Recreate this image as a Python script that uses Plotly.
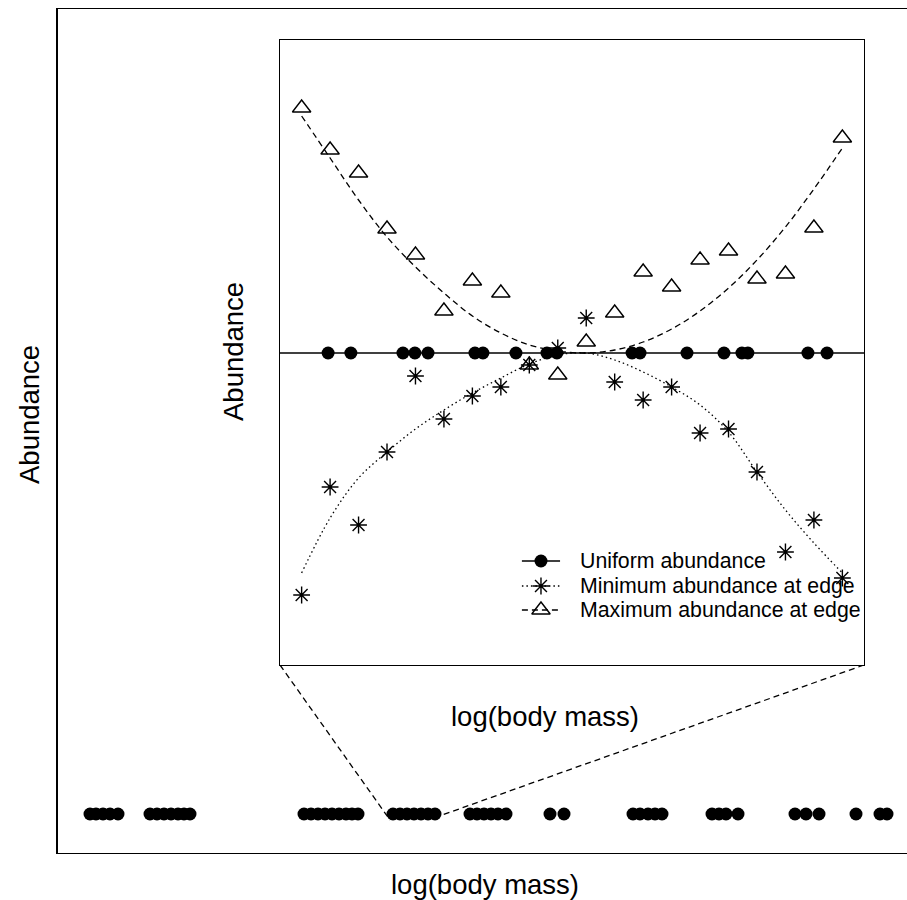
import plotly.graph_objects as go

# ---------------- data ----------------
# Outer panel: positions of species along log(body mass) (arbitrary units)
outer_mass = [3.25, 3.85, 4.55, 5.25, 6.05,
              9.25, 9.95, 10.65, 11.35, 12.05, 12.65, 13.25,
              24.65, 25.35, 26.05, 26.75, 27.45, 28.15, 28.85, 29.45, 30.05,
              33.55, 34.25, 34.95, 35.65, 36.35, 37.05, 37.75,
              41.25, 41.95, 42.65, 43.35, 44.05, 44.85,
              49.25, 50.65,
              57.55, 58.25, 59.05, 59.75, 60.45,
              65.45, 66.15, 66.85, 68.05,
              73.75, 74.85, 76.15,
              79.85,
              82.25, 82.95]
outer_level = 3.9
# zoomed window on the outer axis (left / right end of the connector lines)
zoom_window_x = [33.25, 38.45]
zoom_window_y = [3.3, 3.8]

# Inset panel
inset_x = list(range(1, 21))
max_edge = [74.5, 70.3, 68.0, 62.4, 59.8, 54.2, 57.2, 56.0, 48.8, 47.8,
            51.1, 54.0, 58.1, 56.6, 59.3, 60.2, 57.4, 57.9, 62.5, 71.5]
min_edge = [25.8, 36.6, 32.8, 40.1, 47.7, 43.4, 45.7, 46.6, 48.8, 50.5,
            53.5, 47.1, 45.3, 46.6, 42.0, 42.4, 38.1, 30.1, 33.3, 27.5]
max_curve = [73.7, 69.5, 65.3, 61.6, 58.6, 56.0, 53.7, 52.0, 50.8, 50.2,
             50.0, 50.3, 51.1, 52.4, 54.2, 56.5, 59.3, 62.6, 66.4, 70.5]
min_curve = [28.0, 33.5, 37.5, 40.1, 42.4, 44.3, 46.0, 47.5, 48.9, 49.8,
             50.0, 49.3, 48.1, 46.6, 44.8, 42.1, 38.1, 34.3, 31.0, 28.0]
uniform_x = [1.93, 2.73, 4.56, 4.98, 5.44, 7.09, 7.37, 8.53, 9.62, 9.97,
             12.61, 12.89, 14.54, 15.84, 16.47, 16.68, 18.79, 19.46]
uniform_level = 50.0

legend_labels = ["Uniform abundance", "Minimum abundance at edge", "Maximum abundance at edge"]

# ---------------- layout constants ----------------
W, H = 907, 900
FONT = "Liberation Sans, Arial, Helvetica, sans-serif"
INK = "#000000"
LW = 1.3

outer_xdom = [57.5 / W, 1.0]
outer_ydom = [47 / H, 891 / H]
outer_xrange = [0, 84.95]
outer_yrange = [0, 84.4]
inset_xdom = [280 / W, 864 / W]
inset_ydom = [235 / H, 860 / H]
inset_xrange = [0.24, 20.76]
inset_yrange = [18.8, 81.3]


def paper_to_outer(fx, fy):
    x = outer_xrange[0] + (fx - outer_xdom[0]) / (outer_xdom[1] - outer_xdom[0]) * (outer_xrange[1] - outer_xrange[0])
    y = outer_yrange[0] + (fy - outer_ydom[0]) / (outer_ydom[1] - outer_ydom[0]) * (outer_yrange[1] - outer_yrange[0])
    return x, y


fig = go.Figure()

# outer dots
fig.add_trace(go.Scatter(x=outer_mass, y=[outer_level] * len(outer_mass), mode="markers",
                         marker=dict(symbol="circle", size=13, color=INK, line=dict(width=0)),
                         xaxis="x", yaxis="y", hoverinfo="skip"))

# connector lines from the inset bottom corners to the zoomed window
for corner_fx, wx, wy in [(inset_xdom[0], zoom_window_x[0], zoom_window_y[0]),
                          (inset_xdom[1], zoom_window_x[1], zoom_window_y[1])]:
    cx, cy = paper_to_outer(corner_fx, inset_ydom[0])
    fig.add_trace(go.Scatter(x=[cx, wx], y=[cy, wy], mode="lines",
                             line=dict(color=INK, width=LW, dash="6px,4px"),
                             xaxis="x", yaxis="y", hoverinfo="skip"))

# inset curves
fig.add_trace(go.Scatter(x=inset_x, y=min_curve, mode="lines",
                         line=dict(color=INK, width=LW, dash="1.5px,3px", shape="spline"),
                         xaxis="x2", yaxis="y2", hoverinfo="skip"))
fig.add_trace(go.Scatter(x=inset_x, y=max_curve, mode="lines",
                         line=dict(color=INK, width=LW, dash="6px,4px", shape="spline"),
                         xaxis="x2", yaxis="y2", hoverinfo="skip"))

# inset points
fig.add_trace(go.Scatter(x=uniform_x, y=[uniform_level] * len(uniform_x), mode="markers",
                         marker=dict(symbol="circle", size=13, color=INK, line=dict(width=0)),
                         xaxis="x2", yaxis="y2", hoverinfo="skip"))
fig.add_trace(go.Scatter(x=inset_x, y=min_edge, mode="markers",
                         marker=dict(symbol="asterisk-open", size=14, color=INK,
                                     line=dict(color=INK, width=1.4)),
                         xaxis="x2", yaxis="y2", hoverinfo="skip"))
fig.add_trace(go.Scatter(x=inset_x, y=max_edge, mode="markers",
                         marker=dict(symbol="triangle-up-open", size=16, color=INK,
                                     line=dict(color=INK, width=1.4)),
                         xaxis="x2", yaxis="y2", hoverinfo="skip"))

# manual legend (key positions in inset axis units)
key_x = [8.74, 9.41, 10.08]
key_rows = [29.2, 26.7, 24.3]
key_styles = [
    (dict(color=INK, width=LW), dict(symbol="circle", size=13, color=INK, line=dict(width=0))),
    (dict(color=INK, width=LW, dash="1.5px,3px"),
     dict(symbol="asterisk-open", size=14, color=INK, line=dict(color=INK, width=1.4))),
    (dict(color=INK, width=LW, dash="6px,4px"),
     dict(symbol="triangle-up-open", size=16, color=INK, line=dict(color=INK, width=1.4))),
]
for ky, (lstyle, mstyle) in zip(key_rows, key_styles):
    fig.add_trace(go.Scatter(x=[key_x[0], key_x[2]], y=[ky, ky], mode="lines", line=lstyle,
                             xaxis="x2", yaxis="y2", hoverinfo="skip"))
    fig.add_trace(go.Scatter(x=[key_x[1]], y=[ky], mode="markers", marker=mstyle,
                             xaxis="x2", yaxis="y2", hoverinfo="skip"))

annotations = []
for ky, lab in zip(key_rows, legend_labels):
    annotations.append(dict(x=10.71, y=ky, xref="x2", yref="y2", text=lab, showarrow=False,
                            xanchor="left", yanchor="middle",
                            font=dict(family=FONT, size=21.3, color=INK)))

# axis titles
label_font = dict(family=FONT, size=27.5, color=INK)
annotations += [
    dict(x=485 / W, y=1 - 884 / H, xref="paper", yref="paper", text="log(body mass)",
         showarrow=False, xanchor="center", yanchor="middle", font=label_font),
    dict(x=29 / W, y=1 - 415 / H, xref="paper", yref="paper", text="Abundance", textangle=-90,
         showarrow=False, xanchor="center", yanchor="middle", font=label_font),
    dict(x=545 / W, y=1 - 716 / H, xref="paper", yref="paper", text="log(body mass)",
         showarrow=False, xanchor="center", yanchor="middle", font=label_font),
    dict(x=233 / W, y=1 - 352 / H, xref="paper", yref="paper", text="Abundance", textangle=-90,
         showarrow=False, xanchor="center", yanchor="middle", font=label_font),
]

axis_common = dict(showgrid=False, zeroline=False, showticklabels=False, ticks="",
                   linecolor=INK, linewidth=LW, fixedrange=True)

fig.update_layout(
    width=W, height=H, autosize=False,
    margin=dict(l=0, r=0, t=0, b=0, pad=0),
    paper_bgcolor="white", plot_bgcolor="white",
    showlegend=False,
    xaxis=dict(domain=outer_xdom, range=outer_xrange, anchor="y", showline=True, mirror=True, **axis_common),
    yaxis=dict(domain=outer_ydom, range=outer_yrange, anchor="x", showline=True, mirror=False, **axis_common),
    xaxis2=dict(domain=inset_xdom, range=inset_xrange, anchor="y2", showline=True, mirror=True, **axis_common),
    yaxis2=dict(domain=inset_ydom, range=inset_yrange, anchor="x2", showline=True, mirror=True, **axis_common),
    shapes=[dict(type="line", xref="x2 domain", yref="y2", x0=0, x1=1, y0=uniform_level, y1=uniform_level,
                 line=dict(color=INK, width=LW))],
    annotations=annotations,
)

# remove the default page margin so the 907x900 figure fills the window exactly
fig.write_html("out.html", config={"displayModeBar": False, "staticPlot": True},
               post_script="document.body.style.margin='0';document.body.style.overflow='hidden';")
